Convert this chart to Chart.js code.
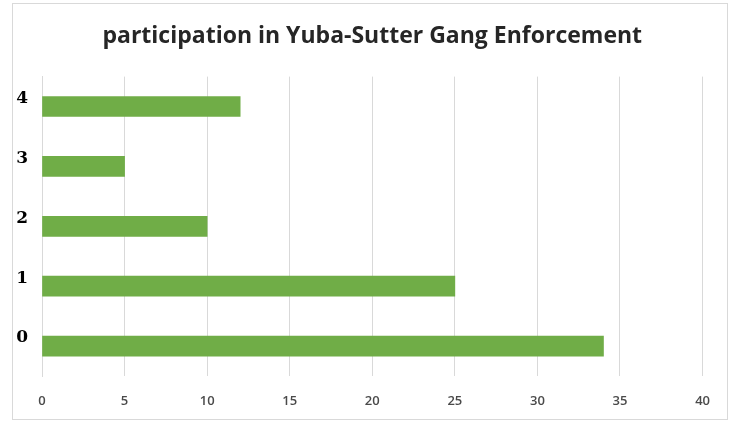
<!DOCTYPE html>
<html>
<head>
<meta charset="utf-8">
<script src="https://cdn.jsdelivr.net/npm/chart.js@4/dist/chart.umd.min.js"></script>
<style>
    html, body { margin: 0; padding: 0; background: #fff; }
    #box {
        position: absolute;
        left: 12px; top: 3px;
        width: 714px; height: 415px;
        border: 1px solid #d9d9d9;
    }
</style>
</head>
<body>
<div id="box"><canvas id="gangChart"></canvas></div>
<script>
// Chart data
const categories = ['0', '1', '2', '3', '4'];
const participants = [34, 25, 10, 5, 12];
const chartTitle = 'participation in Yuba-Sutter Gang Enforcement';

const ctx = document.getElementById('gangChart').getContext('2d');

new Chart(ctx, {
    type: 'bar',
    data: {
        labels: categories,
        datasets: [{
            label: 'participation',
            data: participants,
            backgroundColor: '#70ad47',
            borderWidth: 0,
            barThickness: 20
        }]
    },
    options: {
        indexAxis: 'y',
        responsive: true,
        maintainAspectRatio: false,
        animation: false,
        layout: {
            padding: { left: 0, right: 22, top: 0, bottom: 0 }
        },
        scales: {
            x: {
                min: 0,
                max: 40,
                ticks: {
                    stepSize: 5,
                    padding: 17,
                    color: '#4a4a4a',
                    font: { family: 'Open Sans', size: 13, weight: '600' }
                },
                grid: {
                    color: '#d9d9d9',
                    drawTicks: false
                },
                border: { display: false },
                afterFit: function (scale) {
                    scale.height = 43;
                }
            },
            y: {
                reverse: true,  // 0 at the bottom, like the original
                ticks: {
                    padding: 14,
                    labelOffset: -8,
                    color: '#000',
                    font: { family: 'DejaVu Serif', size: 17, weight: 'bold' }
                },
                grid: { display: false, drawTicks: false },
                border: { display: true, color: '#d9d9d9' },
                afterFit: function (scale) {
                    scale.width = 29;
                }
            }
        },
        plugins: {
            legend: { display: false },
            tooltip: { enabled: false },
            title: {
                display: true,
                fullSize: false,  // center over the plot area
                text: chartTitle,
                color: '#262626',
                font: { family: 'Open Sans', size: 23, weight: 'bold' },
                padding: { top: 19, bottom: 26 }
            }
        }
    }
});
</script>
</body>
</html>
